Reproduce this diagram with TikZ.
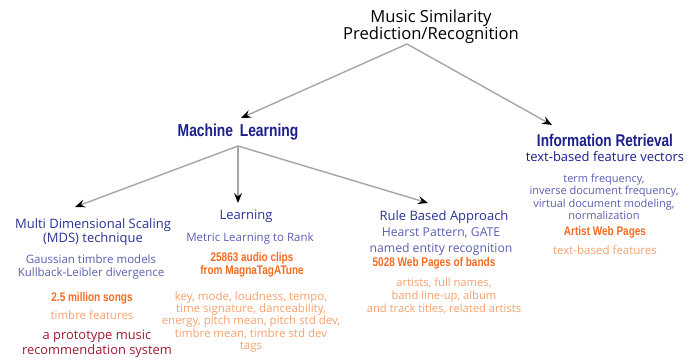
\documentclass[tikz,border=0pt]{standalone}
\usepackage{fontspec}
\usetikzlibrary{arrows.meta}
\setmainfont{Open Sans}
\newfontfamily\condfont[FakeStretch=0.8]{Liberation Sans}
\definecolor{navy}{HTML}{1A1F8C}
\definecolor{midblue}{HTML}{2B3192}
\definecolor{periw}{HTML}{5A5EB0}
\definecolor{orangeb}{HTML}{F26B21}
\definecolor{orangel}{HTML}{F5A16E}
\definecolor{darkred}{HTML}{9E1B32}
\definecolor{linegray}{HTML}{A6A6A6}
\tikzset{
  conn/.style={draw=linegray, line width=1.4pt, -{Stealth[length=10pt,width=8pt,inset=3.5pt,color=black]}},
  txt/.style={inner sep=0pt, align=center},
  titletxt/.style={txt, text=black, font=\fontsize{16.6}{17.5}\selectfont},
  headbig/.style={txt, text=navy, font=\condfont\bfseries\fontsize{17.3}{18}\selectfont},
  subhead/.style={txt, text=midblue, font=\fontsize{13}{14}\selectfont},
  method/.style={txt, text=periw, font=\fontsize{11.5}{12.3}\selectfont},
  data/.style={txt, text=orangeb, font=\condfont\bfseries\fontsize{12.5}{12.5}\selectfont},
  feat/.style={txt, text=orangel, font=\fontsize{11.5}{12.4}\selectfont},
  app/.style={txt, text=darkred, font=\fontsize{12.9}{14.5}\selectfont}
}
\begin{document}
\begin{tikzpicture}[x=1pt,y=-1pt]
\useasboundingbox (0,0) rectangle (697,360);
% top
\node[titletxt] (title) at (431,26.5) {Music Similarity\\Prediction/Recognition};
\coordinate (tsrc) at (407,44);
% level 1
\node[headbig] (ml) at (238,132) {Machine\,~Learning};
\coordinate (mlsrc) at (238,146);
\coordinate (mlend) at (241,118);
\node[headbig, font=\condfont\bfseries\fontsize{17}{18}\selectfont] (ir) at (605,140) {Information Retrieval};
\coordinate (irend) at (552,125);
\node[subhead, text=navy] (irsub) at (605,157) {text-based feature vectors};
\node[method, font=\fontsize{11}{12.4}\selectfont] (irm) at (604,197) {term frequency,\\inverse document frequency,\\virtual document modeling,\\normalization};
\node[data] (ird) at (605,232) {Artist Web Pages};
\node[feat] (irf) at (605,250) {text-based features};
% MDS
\coordinate (mdsend) at (75,207);
\node[subhead] (mds) at (93,232) {Multi Dimensional Scaling\\(MDS) technique};
\node[method] (mdsm) at (91,267) {Gaussian timbre models\\Kullback-Leibler divergence};
\node[data] (mdsd) at (92,298) {2.5 million songs};
\node[feat] (mdsf) at (92,315) {timbre features};
\node[app] (mdsa) at (97,344) {a prototype music\\recommendation system};
% Learning
\coordinate (lrend) at (238,203);
\node[subhead] (lr) at (246,216) {Learning};
\node[method] (lrm) at (250,239) {Metric Learning to Rank};
\node[data] (lrd) at (252,265) {25863 audio clips\\from MagnaTagATune};
\node[feat, font=\fontsize{11.5}{12.3}\selectfont] (lrf) at (251,322) {key, mode, loudness, tempo,\\time signature, danceability,\\energy, pitch mean, pitch std dev,\\timbre mean, timbre std dev\\tags};
% Rule based
\coordinate (rbend) at (428,203);
\node[subhead] (rb) at (444,217) {Rule Based Approach};
\node[method, font=\fontsize{12.2}{16}\selectfont] (rbm) at (441,242) {Hearst Pattern, GATE\\named entity recognition};
\node[data] (rbd) at (434,263) {5028 Web Pages of bands};
\node[feat, font=\fontsize{11.2}{12.6}\selectfont] (rbf) at (444,296) {artists, full names,\\band line-up, album\\and track titles, related artists};
% connectors
\draw[conn] (tsrc) -- (mlend);
\draw[conn] (tsrc) -- (irend);
\draw[conn] (mlsrc) -- (mdsend);
\draw[conn] (mlsrc) -- (lrend);
\draw[conn] (mlsrc) -- (rbend);
\end{tikzpicture}
\end{document}
